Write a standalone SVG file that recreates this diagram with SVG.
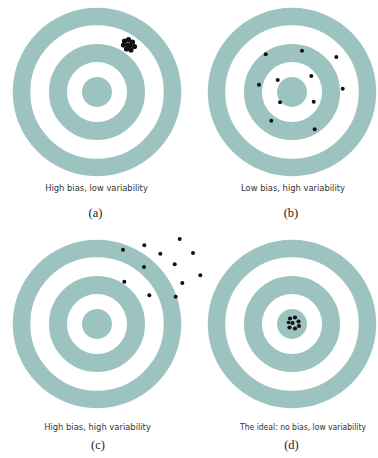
<svg xmlns="http://www.w3.org/2000/svg" xmlns:xlink="http://www.w3.org/1999/xlink" width="378" height="458" viewBox="0 0 378 458">
  <style>
    .ring { fill: none; stroke: #9dc3c0; }
    .eye { fill: #9dc3c0; }
    .dot { fill: #111; }
    .cap { font-family: "DejaVu Sans Condensed", "DejaVu Sans", "Liberation Sans", sans-serif; font-stretch: condensed; font-size: 9.3px; fill: #333; text-anchor: middle; }
    .cap-d { font-size: 8.5px; }
    .lbl { font-family: "Liberation Serif", "Times New Roman", serif; font-size: 12.5px; fill: #222; text-anchor: middle; }
  </style>
  <defs>
    <g id="target">
      <circle class="ring" r="75.5" stroke-width="17.5"/>
      <circle class="ring" r="39" stroke-width="18"/>
      <circle class="eye" r="15"/>
    </g>
  </defs>
  <rect width="378" height="458" fill="#fff"/>

  <g id="panel-a">
    <use xlink:href="#target" x="97" y="92"/>
    <g>
      <circle class="dot" cx="124.5" cy="41" r="2.6"/>
      <circle class="dot" cx="128.5" cy="39.5" r="2.6"/>
      <circle class="dot" cx="132.5" cy="42" r="2.6"/>
      <circle class="dot" cx="134.5" cy="46.5" r="2.6"/>
      <circle class="dot" cx="131" cy="50" r="2.6"/>
      <circle class="dot" cx="126.5" cy="49" r="2.6"/>
      <circle class="dot" cx="123.5" cy="45" r="2.6"/>
      <circle class="dot" cx="128.5" cy="45" r="2.8"/>
      <circle class="dot" cx="130" cy="45.5" r="2.6"/>
    </g>
    <text class="cap" x="96.5" y="190.5">High bias, low variability</text>
    <text class="lbl" x="95.5" y="217">(a)</text>
  </g>

  <g id="panel-b">
    <use xlink:href="#target" x="292" y="92"/>
    <circle class="dot" cx="265.7" cy="54.3" r="2"/>
    <circle class="dot" cx="302" cy="50.7" r="2"/>
    <circle class="dot" cx="336.3" cy="57" r="2"/>
    <circle class="dot" cx="277.7" cy="80" r="2"/>
    <circle class="dot" cx="311.3" cy="76" r="2"/>
    <circle class="dot" cx="259" cy="84.7" r="2"/>
    <circle class="dot" cx="342.7" cy="88.7" r="2"/>
    <circle class="dot" cx="280" cy="102.3" r="2"/>
    <circle class="dot" cx="313.7" cy="101.7" r="2"/>
    <circle class="dot" cx="271.3" cy="120.7" r="2"/>
    <circle class="dot" cx="314.7" cy="129.3" r="2"/>
    <text class="cap" x="293" y="190.5">Low bias, high variability</text>
    <text class="lbl" x="291" y="217">(b)</text>
  </g>

  <g id="panel-c">
    <use xlink:href="#target" x="97" y="324"/>
    <circle class="dot" cx="179.7" cy="239" r="2"/>
    <circle class="dot" cx="144.3" cy="245.3" r="2"/>
    <circle class="dot" cx="123" cy="249.7" r="2"/>
    <circle class="dot" cx="160.3" cy="253.7" r="2"/>
    <circle class="dot" cx="193" cy="253" r="2"/>
    <circle class="dot" cx="174.7" cy="264.3" r="2"/>
    <circle class="dot" cx="144" cy="267" r="2"/>
    <circle class="dot" cx="200.3" cy="275.3" r="2"/>
    <circle class="dot" cx="124.3" cy="281.7" r="2"/>
    <circle class="dot" cx="182.3" cy="283" r="2"/>
    <circle class="dot" cx="149.3" cy="295.3" r="2"/>
    <circle class="dot" cx="175.7" cy="296.7" r="2"/>
    <text class="cap" x="97.5" y="430">High bias, high variability</text>
    <text class="lbl" x="98" y="449">(c)</text>
  </g>

  <g id="panel-d">
    <use xlink:href="#target" x="292" y="324"/>
    <g>
      <circle class="dot" cx="290" cy="318.5" r="2.1"/>
      <circle class="dot" cx="295" cy="317.5" r="2.1"/>
      <circle class="dot" cx="298.5" cy="321.5" r="2.1"/>
      <circle class="dot" cx="299" cy="326" r="2.1"/>
      <circle class="dot" cx="295" cy="328.5" r="2.1"/>
      <circle class="dot" cx="289.5" cy="327.5" r="2.1"/>
      <circle class="dot" cx="292.5" cy="323" r="2.1"/>
      <circle class="dot" cx="288.5" cy="322.5" r="1.8"/>
    </g>
    <text class="cap cap-d" x="303" y="430">The ideal: no bias, low variability</text>
    <text class="lbl" x="291.5" y="449">(d)</text>
  </g>
</svg>
